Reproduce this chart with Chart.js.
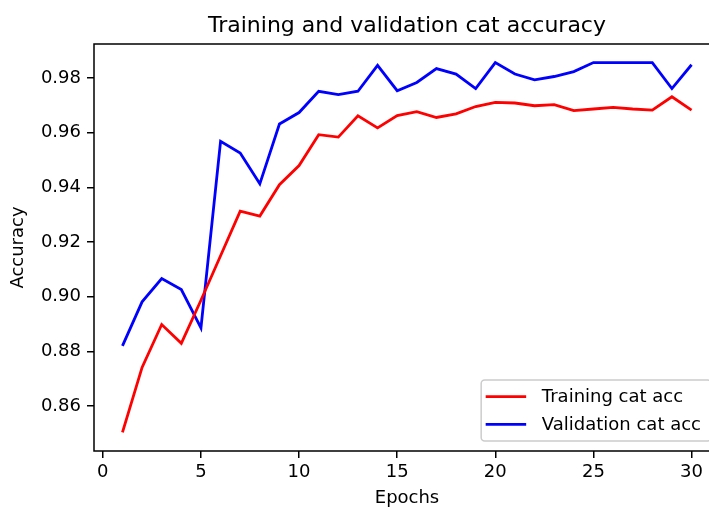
<!DOCTYPE html>
<html>
<head>
<meta charset="utf-8">
<script src="https://cdn.jsdelivr.net/npm/chart.js@4.4.0/dist/chart.umd.min.js"></script>
<style>
  html, body { margin: 0; padding: 0; background: #fff; overflow: hidden; }
  #wrap { width: 709px; height: 507px; overflow: hidden; }
</style>
</head>
<body>
<div id="wrap"><canvas id="accChart" width="730" height="507"></canvas></div>
<script>
const epochs = [1, 2, 3, 4, 5, 6, 7, 8, 9, 10, 11, 12, 13, 14, 15,
                16, 17, 18, 19, 20, 21, 22, 23, 24, 25, 26, 27, 28, 29, 30];
const trainAcc = [0.8503, 0.8741, 0.8898, 0.8829, 0.8987, 0.9150, 0.9313, 0.9295, 0.9410, 0.9480,
                  0.9593, 0.9584, 0.9662, 0.9618, 0.9663, 0.9677, 0.9656, 0.9669, 0.9696, 0.9711,
                  0.9709, 0.9699, 0.9703, 0.9681, 0.9687, 0.9693, 0.9687, 0.9683, 0.9732, 0.9683];
const valAcc = [0.8820, 0.8981, 0.9066, 0.9026, 0.8886, 0.9569, 0.9526, 0.9413, 0.9632, 0.9674,
                0.9752, 0.9740, 0.9752, 0.9847, 0.9754, 0.9784, 0.9835, 0.9815, 0.9762, 0.9857,
                0.9815, 0.9794, 0.9806, 0.9824, 0.9857, 0.9857, 0.9857, 0.9857, 0.9762, 0.9849];
const xTicks = [0, 5, 10, 15, 20, 25, 30];
const yTicks = [0.86, 0.88, 0.90, 0.92, 0.94, 0.96, 0.98];

Chart.defaults.font.family = '"DejaVu Sans", sans-serif';
Chart.defaults.color = '#000';

// left, top and bottom edges of the axes box, drawn over the lines
const framePlugin = {
  id: 'frame',
  afterDatasetsDraw(chart) {
    const { ctx, chartArea: a } = chart;
    ctx.save();
    ctx.strokeStyle = '#000';
    ctx.lineWidth = 1.5;
    ctx.beginPath();
    ctx.moveTo(a.right, a.top);
    ctx.lineTo(a.left, a.top);
    ctx.lineTo(a.left, a.bottom);
    ctx.lineTo(a.right, a.bottom);
    ctx.stroke();
    ctx.restore();
  }
};

// boxed legend in the lower right corner of the plot
const boxLegend = {
  id: 'boxLegend',
  afterDraw(chart) {
    const { ctx, chartArea: a } = chart;
    const sets = chart.data.datasets;
    ctx.save();
    ctx.font = '18px "DejaVu Sans"';
    const textW = Math.max(...sets.map(d => ctx.measureText(d.label).width));
    const row = 27.7, padY = 2.8;
    const w = 60.7 + textW + 10;
    const h = padY * 2 + row * sets.length;
    const right = a.right - 9, bottom = a.bottom - 10;
    const left = right - w, top = bottom - h;

    ctx.beginPath();
    ctx.roundRect(left, top, w, h, 3.5);
    ctx.fillStyle = 'rgba(255,255,255,0.8)';
    ctx.fill();
    ctx.strokeStyle = '#cccccc';
    ctx.lineWidth = 1.5;
    ctx.stroke();

    ctx.textBaseline = 'middle';
    sets.forEach((d, i) => {
      const y = top + padY + row * (i + 0.5);
      ctx.beginPath();
      ctx.moveTo(left + 4.5, y);
      ctx.lineTo(left + 45, y);
      ctx.strokeStyle = d.borderColor;
      ctx.lineWidth = 2.8;
      ctx.stroke();
      ctx.fillStyle = '#000';
      ctx.fillText(d.label, left + 60.7, y + 1);
    });
    ctx.restore();
  }
};

new Chart(document.getElementById('accChart'), {
  type: 'line',
  data: {
    datasets: [{
      label: 'Training cat acc',
      data: epochs.map((e, i) => ({ x: e, y: trainAcc[i] })),
      borderColor: '#ff0000',
      borderWidth: 2.8,
      pointRadius: 0,
      tension: 0
    }, {
      label: 'Validation cat acc',
      data: epochs.map((e, i) => ({ x: e, y: valAcc[i] })),
      borderColor: '#0000ff',
      borderWidth: 2.8,
      pointRadius: 0,
      tension: 0
    }]
  },
  options: {
    responsive: false,
    animation: false,
    layout: { padding: { left: 0, right: 10, top: 0, bottom: 0 } },
    scales: {
      x: {
        type: 'linear',
        min: -0.45,
        max: 31.45,
        afterBuildTicks: s => { s.ticks = xTicks.map(v => ({ value: v })); },
        afterFit: s => { s.height = 56; },
        ticks: { font: { size: 18 }, padding: 4, maxRotation: 0, autoSkip: false },
        grid: { drawOnChartArea: false, drawTicks: true, tickLength: 7, color: '#000', lineWidth: 1.5 },
        border: { display: false },
        title: { display: true, text: 'Epochs', font: { size: 18 }, padding: { top: 0, bottom: -2.5 } }
      },
      y: {
        min: 0.8435,
        max: 0.9925,
        afterBuildTicks: s => { s.ticks = yTicks.map(v => ({ value: v })); },
        afterFit: s => { s.width = 94; },
        ticks: { font: { size: 18 }, padding: 6, autoSkip: false, callback: v => v.toFixed(2) },
        grid: { drawOnChartArea: false, drawTicks: true, tickLength: 7, color: '#000', lineWidth: 1.5 },
        border: { display: false },
        title: { display: true, text: 'Accuracy', font: { size: 18 }, padding: { top: 8, bottom: 0 } }
      }
    },
    plugins: {
      legend: { display: false },
      tooltip: { enabled: false },
      title: {
        display: true,
        fullSize: false,
        text: 'Training and validation cat accuracy',
        font: { size: 22, weight: 'normal' },
        padding: { top: 13.5, bottom: 4.1 }
      }
    }
  },
  plugins: [framePlugin, boxLegend]
});
</script>
</body>
</html>
